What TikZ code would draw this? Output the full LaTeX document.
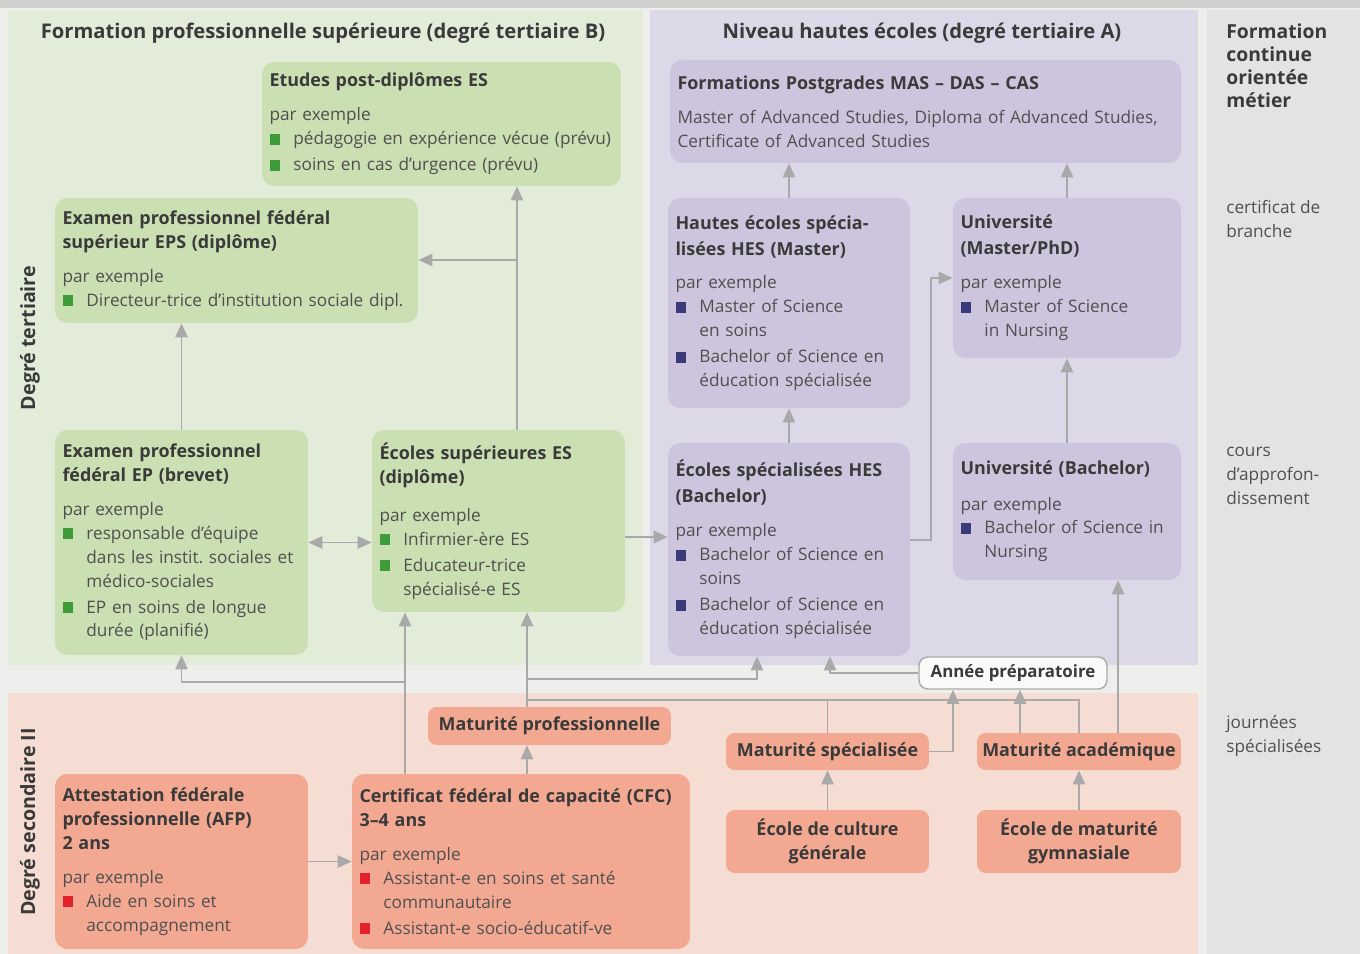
\documentclass[tikz,border=0pt]{standalone}
\usepackage{fontspec}
\setmainfont{Open Sans}
\usepackage{xcolor}
\usetikzlibrary{arrows.meta,positioning}

\definecolor{pagegray}{HTML}{EEEEEC}
\definecolor{topgray}{HTML}{CFCFCD}
\definecolor{areagreen}{HTML}{E3EBD9}
\definecolor{areaviolet}{HTML}{DCD8E7}
\definecolor{areasalmon}{HTML}{F6DDD4}
\definecolor{colgray}{HTML}{E3E3E1}
\definecolor{boxgreen}{HTML}{CADFB2}
\definecolor{boxviolet}{HTML}{CDC5DD}
\definecolor{boxsalmon}{HTML}{F3A892}
\definecolor{bulgreen}{HTML}{3E9B3A}
\definecolor{bulviolet}{HTML}{3B3A78}
\definecolor{bulred}{HTML}{E3222B}
\definecolor{linegray}{HTML}{A9A9A9}
\definecolor{textdark}{HTML}{3A3A3A}
\definecolor{textbody}{HTML}{505050}

\newcommand{\itm}[1]{\makebox[13.6pt][l]{\textcolor{#1}{\rule[0pt]{6.2pt}{6.2pt}}}}
\newcommand{\ind}{\hspace*{13.6pt}}
\newcommand{\ttl}[1]{{\fontsize{10.2}{13.6}\selectfont\bfseries\color{textdark}#1}}

\begin{document}
\begin{tikzpicture}[x=0.02cm, y=-0.02cm,
    box/.style={rectangle, rounded corners=7pt, align=left, inner xsep=0.15cm, inner ysep=3pt, font=\fontsize{9.8}{13.6}\selectfont, text=textbody},
    gbox/.style={box, fill=boxgreen},
    vbox/.style={box, fill=boxviolet},
    sbox/.style={box, fill=boxsalmon},
    mat/.style={rectangle, rounded corners=5pt, fill=boxsalmon, align=center, inner sep=0pt, font=\fontsize{10.2}{13.6}\selectfont\bfseries, text=textdark},
    whitebox/.style={mat, fill=white!70!pagegray, draw=linegray, line width=0.8pt, font=\fontsize{9.6}{13}\selectfont\bfseries},
    head/.style={font=\fontsize{11.5}{14}\selectfont\bfseries, text=textdark},
    side/.style={rotate=90, font=\fontsize{11.2}{14}\selectfont\bfseries, text=textdark},
    col/.style={anchor=north west, align=left, inner sep=0pt, font=\fontsize{9.8}{13.6}\selectfont, text=textbody},
    arrow/.style={->, >={Triangle[length=8pt,width=7pt]}, line width=1pt, draw=linegray},
    line/.style={line width=1pt, draw=linegray}
]
\useasboundingbox (0,0) rectangle (1360,954);

% areas
\fill[pagegray] (0,0) rectangle (1360,954);
\fill[topgray] (0,0) rectangle (1360,8);
\fill[areagreen] (8,10) rectangle (643,665);
\fill[areaviolet] (650,10) rectangle (1198,665);
\fill[colgray] (1207,10) rectangle (1360,954);
\fill[areasalmon] (8,693) rectangle (1198,954);

\node[head] (headb) at (323,33) {Formation professionnelle supérieure (degré tertiaire B)};
\node[head] (heada) at (922,33) {Niveau hautes écoles (degré tertiaire A)};
\node[side] (tert) at (30,338) {Degré tertiaire};
\node[side] (sec) at (30,822) {Degré secondaire II};

% tertiaire B
\node[gbox, text width=6.88cm, minimum height=2.48cm] (post) at (441.5,124) {\ttl{Etudes post-diplômes ES}\\[5.7pt]
par exemple\\
\itm{bulgreen}pédagogie en expérience vécue (prévu)\\[1.2pt]
\itm{bulgreen}soins en cas d’urgence (prévu)};
\node[gbox, text width=6.96cm, minimum height=2.5cm] (eps) at (236.5,260.5) {\ttl{Examen professionnel fédéral}\\
\ttl{supérieur EPS (diplôme)}\\[5.7pt]
par exemple\\
\itm{bulgreen}Directeur-trice d’institution sociale dipl.};
\node[gbox, text width=4.76cm, minimum height=4.5cm] (ep) at (181.5,542.5) {\ttl{Examen professionnel}\\
\ttl{fédéral EP (brevet)}\\[5.7pt]
par exemple\\
\itm{bulgreen}responsable d’équipe\\
\ind dans les instit.\ sociales et\\
\ind médico-sociales\\[1.2pt]
\itm{bulgreen}EP en soins de longue\\
\ind durée (planifié)};
\node[gbox, text width=4.76cm, minimum height=3.64cm] (es) at (498.5,521) {\ttl{Écoles supérieures ES}\\
\ttl{(diplôme)}\\[8pt]
par exemple\\
\itm{bulgreen}Infirmier-ère ES\\[1.2pt]
\itm{bulgreen}Educateur-trice\\
\ind spécialisé-e ES};

% tertiaire A
\node[vbox, text width=9.92cm, minimum height=2.06cm] (mas) at (925.5,111.5) {\ttl{Formations Postgrades MAS – DAS – CAS}\\[5.7pt]
Master of Advanced Studies, Diploma of Advanced Studies,\\
Certificate of Advanced Studies};
\node[vbox, text width=4.54cm, minimum height=4.2cm] (hesm) at (789,303) {\ttl{Hautes écoles spécia-}\\[1.2pt]
\ttl{lisées HES (Master)}\\[5.7pt]
par exemple\\
\itm{bulviolet}Master of Science\\
\ind en soins\\[1.2pt]
\itm{bulviolet}Bachelor of Science en\\
\ind éducation spécialisée};
\node[vbox, text width=4.26cm, minimum height=3.2cm] (unim) at (1067,278) {\ttl{Université}\\[1.2pt]
\ttl{(Master/PhD)}\\[5.7pt]
par exemple\\
\itm{bulviolet}Master of Science\\
\ind in Nursing};
\node[vbox, text width=4.54cm, minimum height=4.26cm] (hesb) at (789,549.5) {\ttl{Écoles spécialisées HES}\\[1.2pt]
\ttl{(Bachelor)}\\[5.7pt]
par exemple\\
\itm{bulviolet}Bachelor of Science en\\
\ind soins\\[1.2pt]
\itm{bulviolet}Bachelor of Science en\\
\ind éducation spécialisée};
\node[vbox, text width=4.26cm, minimum height=2.74cm] (unib) at (1067,511.5) {\ttl{Université (Bachelor)}\\[6.5pt]
par exemple\\
\itm{bulviolet}Bachelor of Science in\\
\ind Nursing};
\node[whitebox, minimum width=3.76cm, minimum height=0.64cm] (prep) at (1013,673) {Année préparatoire};

% secondaire II
\node[mat, minimum width=4.86cm, minimum height=0.76cm] (mpro) at (549.5,726) {Maturité professionnelle};
\node[mat, minimum width=4.06cm, minimum height=0.74cm] (mspec) at (827.5,751.5) {Maturité spécialisée};
\node[mat, minimum width=4.08cm, minimum height=0.74cm] (macad) at (1079,751.5) {Maturité académique};
\node[mat, minimum width=4.06cm, minimum height=1.26cm] (ecg) at (827.5,841.5) {École de culture\\générale};
\node[mat, minimum width=4.08cm, minimum height=1.26cm] (emg) at (1079,841.5) {École de maturité\\gymnasiale};
\node[sbox, text width=4.76cm, minimum height=3.5cm] (afp) at (181.5,861.5) {\ttl{Attestation fédérale}\\
\ttl{professionnelle (AFP)}\\
\ttl{2 ans}\\[5.7pt]
par exemple\\
\itm{bulred}Aide en soins et\\
\ind accompagnement};
\node[sbox, text width=6.46cm, minimum height=3.5cm] (cfc) at (521,861.5) {\ttl{Certificat fédéral de capacité (CFC)}\\
\ttl{3–4 ans}\\[5.7pt]
par exemple\\
\itm{bulred}Assistant-e en soins et santé\\
\ind communautaire\\[1.2pt]
\itm{bulred}Assistant-e socio-éducatif-ve};

% right column
\node[col, font=\fontsize{11}{13.2}\selectfont\bfseries, text=textdark] (fcom) at (1226,23) {Formation\\continue\\orientée\\métier};
\node[col] (cbr) at (1226,200) {certificat de\\branche};
\node[col] (capp) at (1226,447) {cours\\d’approfon-\\dissement};
\node[col] (jsp) at (1226,715) {journées\\spécialisées};

% junctions
\coordinate (jA) at (405,682);
\coordinate (jB) at (517,260);
\coordinate (jC) at (646,537);
\coordinate (jD) at (931,540);
\coordinate (jE) at (527,679);
\coordinate (jF) at (757,679);
\coordinate (jG) at (527,700);
\coordinate (jH) at (830,674);
\coordinate (jI) at (953,752);
\coordinate (jJ) at (1020,720);
\coordinate (jK) at (1118,720);

% tertiaire connectors
\draw[arrow] (es.north -| jB) -- (post.south -| jB);
\draw[arrow] (jB) -- (eps.east |- jB);
\draw[arrow] (ep.north) -- (ep.north |- eps.south);
\draw[arrow, <->] (ep.east) -- (es.west |- ep.east);
\draw[arrow] (es.east |- jC) -- (hesb.west |- jC);
\draw[arrow] (hesb.north) -- (hesm.south);
\draw[arrow] (hesm.north) -- (hesm.north |- mas.south);
\draw[arrow] (unim.north) -- (unim.north |- mas.south);
\draw[arrow] (unib.north) -- (unim.south);
\draw[arrow] (hesb.east |- jD) -- (jD) |- (unim.west);

% secondaire connectors
\draw[arrow] (afp.east) -- (cfc.west |- afp.east);
\draw[arrow] (cfc.north -| jA) -- (es.south -| jA);
\draw[arrow] (jA) -| (ep.south);
\draw[arrow] (cfc.north -| jE) -- (mpro.south -| jE);
\draw[arrow] (mpro.north -| jE) -- (es.south -| jE);
\draw[arrow] (jE) -- (jF) -- (hesb.south -| jF);
\draw[line] (jG) -| (mspec.north);
\draw[line] (jG) -| (macad.north);
\draw[arrow] (prep.west) -| (hesb.south -| jH);
\draw[arrow] (mspec.east) -| (prep.south -| jI);
\draw[arrow] (macad.north -| jJ) -- (prep.south -| jJ);
\draw[arrow] (macad.north -| jK) -- (unib.south -| jK);
\draw[arrow] (ecg.north) -- (mspec.south);
\draw[arrow] (emg.north) -- (macad.south);

\end{tikzpicture}
\end{document}
